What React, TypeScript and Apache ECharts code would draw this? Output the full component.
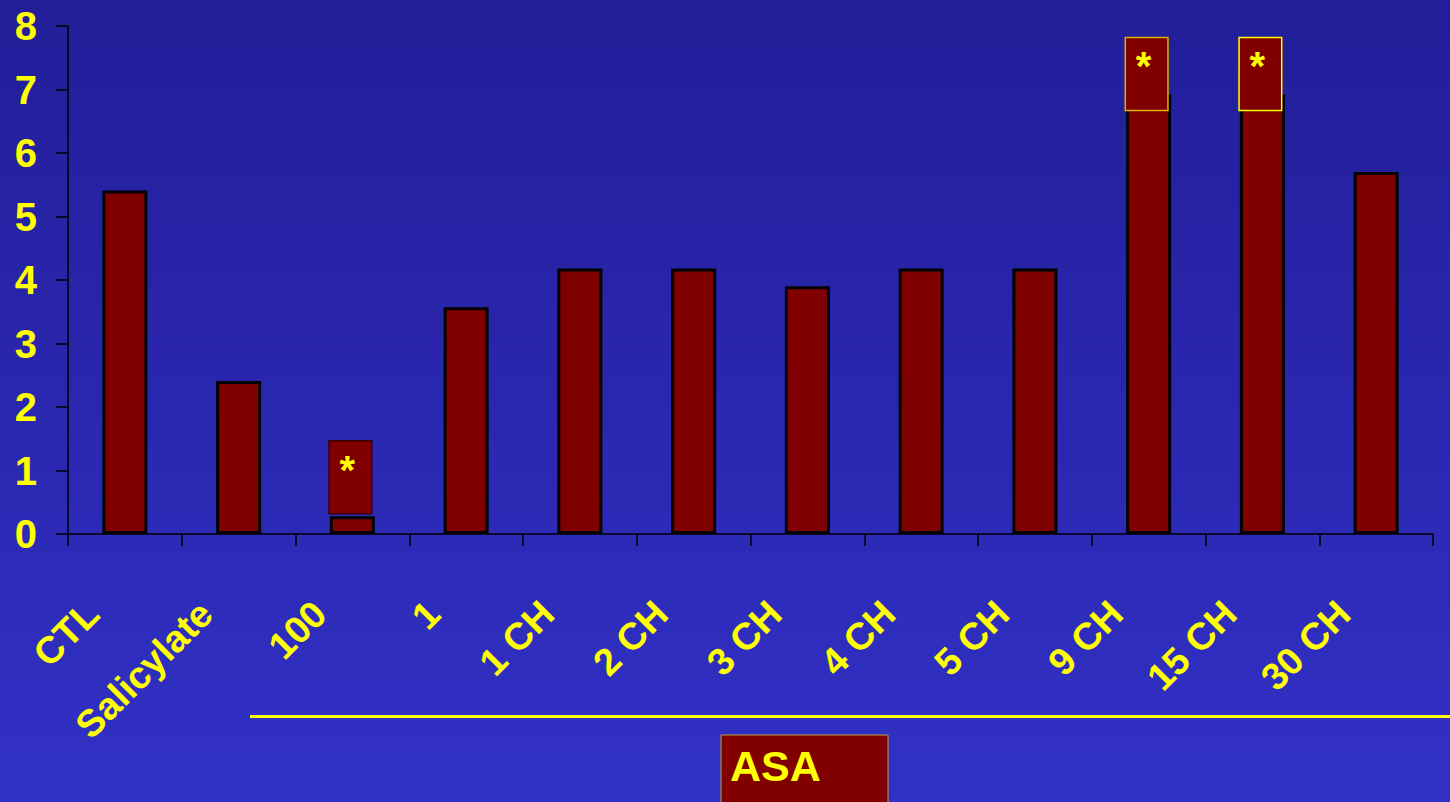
import React, { useEffect, useRef } from "react";
import * as echarts from "echarts";

const categories = ["CTL", "Salicylate", "100", "1", "1 CH", "2 CH", "3 CH", "4 CH", "5 CH", "9 CH", "15 CH", "30 CH"];
const values = [5.41, 2.41, 0.28, 3.57, 4.18, 4.18, 3.9, 4.18, 4.18, 6.92, 6.92, 5.7];
const starCategories = ["100", "9 CH", "15 CH"];
const starLows = [0.32, 6.67, 6.67];
const starHighs = [1.47, 7.82, 7.82];
const starBorders = ["#3a0000", "#d8b400", "#ffff00"];
const yMin = 0;
const yMax = 8;
const yStep = 1;
const groupLabel = "ASA";

const FONT = '"Liberation Sans", Arial, sans-serif';
const YELLOW = "#ffff00";
const BAR = "#800000";

export default function App() {
  const ref = useRef<HTMLDivElement>(null);
  useEffect(() => {
    if (!ref.current) return;
    const chart = echarts.init(ref.current, undefined, { renderer: "svg" });
    const starData = starCategories.map((c, i) => [categories.indexOf(c), starLows[i], starHighs[i]]);
    chart.setOption({
      animation: false,
      backgroundColor: new echarts.graphic.LinearGradient(0, 0, 0, 1, [
        { offset: 0, color: "#221d98" },
        { offset: 1, color: "#3131c6" },
      ]),
      grid: { left: 68, top: 26, right: 17, bottom: 268, containLabel: false },
      xAxis: {
        type: "category",
        data: categories,
        axisLine: { show: true, lineStyle: { color: "#000", width: 1.5 } },
        axisTick: { show: true, length: 12, interval: 0, lineStyle: { color: "#000", width: 1.5 } },
        axisLabel: {
          interval: 0,
          rotate: 45,
          color: YELLOW,
          fontSize: 38,
          fontWeight: "bold",
          fontFamily: FONT,
          margin: 41,
          padding: [0, 46, 0, 0],
        },
      },
      yAxis: {
        type: "value",
        min: yMin,
        max: yMax,
        interval: yStep,
        axisLine: { show: true, lineStyle: { color: "#000", width: 1.5 } },
        axisTick: { show: true, length: 12, lineStyle: { color: "#000", width: 1.5 } },
        splitLine: { show: false },
        axisLabel: {
          color: YELLOW,
          fontSize: 40,
          fontWeight: "bold",
          fontFamily: FONT,
          margin: 31,
        },
      },
      series: [
        {
          type: "bar",
          data: values,
          barWidth: 45,
          itemStyle: { color: BAR, borderColor: "#000", borderWidth: 3 },
        },
        {
          type: "custom",
          data: starData,
          encode: { x: 0, y: [1, 2] },
          z: 5,
          renderItem: (params: any, api: any) => {
            const idx = api.value(0);
            const lo = api.coord([idx, api.value(1)]);
            const hi = api.coord([idx, api.value(2)]);
            const w = api.size([1, 0])[0] * 0.375;
            const cx = lo[0] - 2;
            return {
              type: "group",
              children: [
                {
                  type: "rect",
                  shape: { x: cx - w / 2, y: hi[1], width: w, height: lo[1] - hi[1] },
                  style: { fill: BAR, stroke: starBorders[params.dataIndex], lineWidth: 1.5 },
                },
                {
                  type: "text",
                  style: {
                    text: "*",
                    x: cx - 3,
                    y: hi[1] + 9,
                    fill: YELLOW,
                    font: `bold 40px ${FONT}`,
                    align: "center",
                    verticalAlign: "top",
                  },
                },
              ],
            };
          },
        },
      ],
      graphic: [
        {
          type: "line",
          shape: { x1: 250, y1: 716.5, x2: 1450, y2: 716.5 },
          style: { stroke: YELLOW, lineWidth: 3 },
          z: 10,
        },
        {
          type: "rect",
          shape: { x: 721, y: 735, width: 167, height: 80 },
          style: { fill: BAR, stroke: "#b8a040", lineWidth: 1 },
          z: 10,
        },
        {
          type: "text",
          x: 730,
          y: 744,
          style: {
            text: groupLabel,
            fill: YELLOW,
            font: `bold 43px ${FONT}`,
            align: "left",
            verticalAlign: "top",
          },
          z: 11,
        },
      ],
    });
    return () => chart.dispose();
  }, []);
  return <div ref={ref} style={{ position: "fixed", left: 0, top: 0, width: 1450, height: 802 }} />;
}
